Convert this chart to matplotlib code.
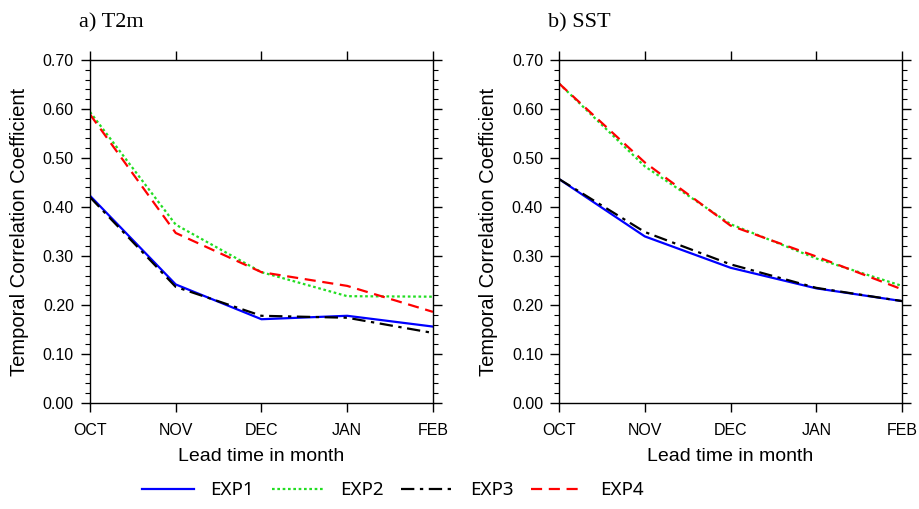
import matplotlib
matplotlib.use("Agg")
import matplotlib.pyplot as plt
from matplotlib.ticker import MultipleLocator

months = ["OCT", "NOV", "DEC", "JAN", "FEB"]

# a) T2m
t2m_exp1 = [0.423, 0.242, 0.171, 0.178, 0.156]
t2m_exp2 = [0.594, 0.364, 0.267, 0.218, 0.217]
t2m_exp3 = [0.420, 0.237, 0.178, 0.174, 0.143]
t2m_exp4 = [0.589, 0.347, 0.267, 0.239, 0.186]

# b) SST
sst_exp1 = [0.457, 0.340, 0.276, 0.234, 0.208]
sst_exp2 = [0.652, 0.483, 0.365, 0.295, 0.239]
sst_exp3 = [0.457, 0.349, 0.283, 0.235, 0.208]
sst_exp4 = [0.652, 0.491, 0.362, 0.299, 0.232]

plt.rcParams["font.family"] = ["Liberation Sans", "DejaVu Sans"]

styles = {
    "EXP1": dict(color="#0000ff", linestyle="-"),
    "EXP2": dict(color="#22dd22", linestyle=(0, (1.2, 1.2))),
    "EXP3": dict(color="black", linestyle=(0, (6, 2.5, 1.5, 2.5))),
    "EXP4": dict(color="#ff0000", linestyle=(0, (5, 3))),
}

fig = plt.figure(figsize=(9.19, 5.09), dpi=100)
ax1 = fig.add_axes([0.0979, 0.2082, 0.3732, 0.674])
ax2 = fig.add_axes([0.6083, 0.2082, 0.3732, 0.674])

panels = [
    (ax1, "a) T2m", [t2m_exp1, t2m_exp2, t2m_exp3, t2m_exp4]),
    (ax2, "b) SST", [sst_exp1, sst_exp2, sst_exp3, sst_exp4]),
]

x = list(range(len(months)))
for ax, title, series in panels:
    for name, vals in zip(styles.keys(), series):
        ax.plot(x, vals, label=name, linewidth=1.6, **styles[name])
    ax.set_xlim(0, len(months) - 1)
    ax.set_ylim(0, 0.70)
    ax.set_xticks(x)
    ax.set_xticklabels(months)
    ax.yaxis.set_major_locator(MultipleLocator(0.1))
    ax.yaxis.set_minor_locator(MultipleLocator(0.02))
    ax.yaxis.set_major_formatter(plt.FormatStrFormatter("%.2f"))
    ax.tick_params(which="major", direction="out", length=6.5, width=1,
                   top=True, right=True, labelsize=11.5)
    ax.tick_params(axis="y", which="major", pad=5)
    ax.tick_params(axis="x", which="major", pad=8)
    ax.tick_params(which="minor", direction="out", length=3.5, width=0.8,
                   top=False, right=True)
    for sp in ax.spines.values():
        sp.set_linewidth(1)
    ax.set_xlabel("Lead time in month", fontsize=14, va="center")
    ax.xaxis.set_label_coords(0.5, -0.157)
    ax.set_ylabel("Temporal Correlation Coefficient", fontsize=14.5, va="center")
    ax.yaxis.set_label_coords(-0.205, 0.5)
    ax.text(-0.032, 1.108, title, transform=ax.transAxes, fontsize=16,
            family=["Liberation Serif", "DejaVu Serif"], va="center", ha="left")

handles, labels = ax1.get_legend_handles_labels()
fig.legend(handles, labels, loc="center", bbox_to_anchor=(0.427, 0.037),
           ncol=4, frameon=False, handlelength=2.8, columnspacing=0.95,
           handletextpad=0.85, prop={"family": "Noto Sans", "size": 13.5})

fig.savefig("out.png", dpi=100)
